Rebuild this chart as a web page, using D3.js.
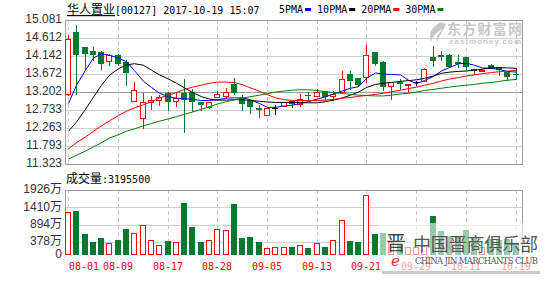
<!DOCTYPE html>
<html>
<head>
<meta charset="utf-8">
<script src="https://cdn.jsdelivr.net/npm/d3@7"></script>
<style>
  body { margin: 0; background: #fff; }
  svg { display: block; }
</style>
</head>
<body>
<svg id="chart" width="550" height="284"></svg>
<script>
// 거래일 (HK), 08-01 ~ 10-19
var dates = ["08-01","08-02","08-03","08-04","08-07","08-08","08-09","08-10","08-11","08-14","08-15","08-16","08-17",
  "08-18","08-21","08-22","08-24","08-25","08-28","08-29","08-30","08-31","09-01","09-04","09-05",
  "09-06","09-07","09-08","09-11","09-12","09-13","09-14","09-15","09-18","09-19","09-20","09-21",
  "09-22","09-25","09-26","09-27","09-28","09-29","10-03","10-04","10-06","10-09","10-10","10-11",
  "10-12","10-13","10-16","10-17","10-18","10-19"];

var open  = [13.14,14.77,14.37,14.27,14.25,14.00,14.17,13.98,12.98,12.53,12.95,12.99,13.17,12.97,13.17,13.21,12.95,12.80,13.08,13.10,13.41,13.05,12.98,12.79,12.61,
  12.78,12.83,12.97,12.88,13.13,13.10,13.22,13.10,13.20,13.68,13.57,13.59,14.25,13.98,13.35,13.46,13.40,13.46,13.48,14.12,14.16,14.18,13.98,14.12,13.81,13.74,13.90,13.86,13.73,13.68];
var high  = [14.68,14.96,14.38,14.38,14.26,14.20,14.20,14.03,13.46,13.17,13.10,13.12,13.19,13.17,13.53,13.28,12.95,12.95,13.24,13.30,13.56,13.12,13.00,12.85,12.79,
  12.85,12.94,12.97,13.16,13.20,13.29,13.22,13.24,13.74,13.74,13.58,14.44,14.25,14.00,13.46,13.55,13.42,13.50,13.83,14.40,14.26,14.19,14.16,14.12,13.81,13.79,13.92,13.86,13.73,13.83];
var low   = [13.12,13.16,13.81,14.05,13.80,13.90,13.90,13.38,12.98,12.25,12.75,12.85,12.73,12.84,12.17,12.71,12.73,12.79,13.06,13.05,13.15,12.73,12.66,12.56,12.61,
  12.64,12.83,12.80,12.84,12.99,13.10,13.00,12.99,13.20,13.29,13.37,13.46,13.90,13.25,13.01,13.29,13.20,13.38,13.48,13.88,14.03,13.85,13.86,13.81,13.68,13.74,13.84,13.65,13.51,13.55];
var close = [14.58,14.16,14.20,14.17,13.94,14.17,13.94,13.71,13.25,12.94,12.99,13.07,12.95,13.05,12.99,12.95,12.86,12.95,13.15,13.21,13.17,12.88,12.80,12.72,12.78,
  12.78,12.94,12.88,13.03,13.09,13.20,13.07,13.16,13.53,13.48,13.38,14.16,13.94,13.33,13.46,13.40,13.42,13.46,13.79,14.00,14.12,13.86,13.94,13.86,13.74,13.77,13.84,13.77,13.59,13.65];

// 성교량 (만)
var volume = [1265,1304,622,395,504,356,444,770,652,879,435,287,415,385,1541,830,395,435,760,731,1511,504,533,395,198,
  228,247,228,287,217,346,237,435,1028,425,395,1770,622,655,380,290,247,247,260,1160,711,570,570,741,494,247,464,444,464,319.55];

// 이동평균선
var ma5  = [12.90,13.38,13.77,14.09,14.20,14.16,14.09,13.99,13.76,13.48,13.32,13.17,13.08,13.04,13.03,13.01,12.98,12.98,13.00,13.04,13.05,13.05,13.00,12.90,12.80,
  12.80,12.84,12.86,12.90,12.95,13.02,13.08,13.15,13.23,13.30,13.34,13.56,13.70,13.67,13.66,13.65,13.51,13.42,13.50,13.61,13.75,13.84,13.94,13.95,13.90,13.83,13.82,13.79,13.74,13.72];
var ma10 = [12.18,12.42,12.75,13.07,13.38,13.64,13.81,13.91,13.94,13.90,13.77,13.65,13.54,13.43,13.31,13.19,13.08,13.02,12.99,12.99,13.00,13.00,12.98,12.96,12.94,
  12.93,12.93,12.93,12.93,12.92,12.92,12.95,12.99,13.05,13.12,13.20,13.32,13.40,13.43,13.45,13.48,13.50,13.52,13.56,13.62,13.69,13.72,13.74,13.75,13.77,13.80,13.83,13.84,13.83,13.82];
var ma20 = [11.72,11.88,12.03,12.18,12.32,12.45,12.59,12.70,12.79,12.87,12.95,13.04,13.12,13.19,13.27,13.33,13.38,13.43,13.46,13.46,13.45,13.39,13.31,13.22,13.13,
  13.05,13.00,12.98,12.98,12.98,12.98,12.99,13.01,13.04,13.06,13.09,13.11,13.14,13.17,13.21,13.25,13.29,13.33,13.38,13.43,13.49,13.54,13.58,13.62,13.65,13.68,13.71,13.73,13.75,13.76];
var ma30 = [11.45,11.55,11.66,11.77,11.88,12.00,12.09,12.18,12.24,12.32,12.38,12.44,12.50,12.56,12.62,12.68,12.75,12.82,12.89,12.95,13.00,13.04,13.08,13.12,13.16,
  13.20,13.23,13.25,13.26,13.26,13.24,13.21,13.19,13.16,13.14,13.12,13.11,13.10,13.10,13.12,13.15,13.17,13.20,13.24,13.27,13.30,13.33,13.36,13.38,13.40,13.43,13.45,13.48,13.51,13.53];

var priceTicks = [15.081,14.612,14.142,13.672,13.202,12.733,12.263,11.793,11.323];
var volTicks = [1926,1410,894,378,0];
var volTickLabels = ["1926万","1410万","894万","378万","0"];
var dateTicks = ["08-01","08-09","08-17","08-28","09-05","09-13","09-21","09-29","10-11","10-19"];
var maLabels = ["5PMA","10PMA","20PMA","30PMA"];

const svg = d3.select("#chart");

const left = 65, right = 522;
const pTop = 20, pBot = 164, vTop = 190, vBot = 255;
const red = "#ff0000", green = "#007a2f";
const maColors = ["#0000ff", "#000000", "#ff0000", "#008000"];

const mono = "'DejaVu Sans Mono', monospace";
const cjk = "'Noto Sans CJK SC', sans-serif";
const sans = "'Liberation Sans', 'Noto Sans CJK SC', sans-serif";

const x = d3.scaleBand().domain(dates).range([63.9, 519.8]);
const cx = d => Math.round(x(d) + x.bandwidth() / 2);
const yP = d3.scaleLinear().domain([11.323, 15.081]).range([pBot, pTop]);
const yV = d3.scaleLinear().domain([0, 1926]).range([vBot, vTop]);

svg.append("rect").attr("width", 550).attr("height", 284).attr("fill", "#fff");

// 워터마크 (상단)
const wm = svg.append("g").attr("fill", "#c8c8c8");
wm.append("path")
  .attr("d", "M441,22 C432,26 428,34 431,42 C433,36 437,31 443,29 C438,33 436,38 437,42 C440,35 444,29 446,24 Z");
wm.append("text").attr("x", 447).attr("y", 34)
  .attr("font-family", cjk).attr("font-size", "14px").attr("font-weight", "bold")
  .attr("textLength", 75).text("东方财富网");
wm.append("text").attr("x", 449).attr("y", 44)
  .attr("font-family", sans).attr("font-size", "8px").attr("font-weight", "bold")
  .attr("textLength", 72).text("eastmoney.com");

// 가로 눈금선
priceTicks.forEach((v, i) => {
  const y = Math.round(yP(v)) + 0.5;
  svg.append("line").attr("x1", left).attr("x2", right).attr("y1", y).attr("y2", y)
    .attr("stroke", i == 4 ? "#999" : "#d0d0d0");
  svg.append("text").attr("x", 62).attr("y", yP(v))
    .attr("text-anchor", "end").attr("dominant-baseline", "middle")
    .attr("font-family", sans).attr("font-size", "12px").attr("fill", "#333")
    .text(v.toFixed(3));
});

volTicks.forEach((v, i) => {
  const y = Math.round(yV(v)) + 0.5;
  if (v > 0 && i > 0) {
    svg.append("line").attr("x1", left).attr("x2", right).attr("y1", y).attr("y2", y)
      .attr("stroke", "#d0d0d0");
  }
  svg.append("text").attr("x", 62).attr("y", yV(v))
    .attr("text-anchor", "end").attr("dominant-baseline", "middle")
    .attr("font-family", sans).attr("font-size", "12px").attr("fill", "#333")
    .text(volTickLabels[i]);
});

// 세로 점선
dateTicks.forEach(d => {
  const xx = cx(d) + 0.5;
  svg.append("line").attr("x1", xx).attr("x2", xx).attr("y1", pTop).attr("y2", pBot)
    .attr("stroke", "#c8c8c8").attr("stroke-dasharray", "4,3");
  svg.append("line").attr("x1", xx).attr("x2", xx).attr("y1", vTop).attr("y2", vBot)
    .attr("stroke", "#c8c8c8").attr("stroke-dasharray", "4,3");
});

// 테두리
svg.append("rect").attr("x", left + 0.5).attr("y", pTop + 0.5)
  .attr("width", right - left).attr("height", pBot - pTop)
  .attr("fill", "none").attr("stroke", "#999");
svg.append("path")
  .attr("d", `M${left + 0.5},${vBot}V${vTop + 0.5}H${right + 0.5}V${vBot}`)
  .attr("fill", "none").attr("stroke", "#999");

// 캔들
dates.forEach((d, i) => {
  const c = cx(d), L = c - 3;
  const o = open[i], cl = close[i];
  const col = cl > o ? red : (cl < o ? green : "#000");
  svg.append("line").attr("x1", c + 0.5).attr("x2", c + 0.5)
    .attr("y1", Math.round(yP(high[i]))).attr("y2", Math.round(yP(low[i])) + 1)
    .attr("stroke", col);
  const top = Math.round(yP(Math.max(o, cl)));
  const bot = Math.round(yP(Math.min(o, cl)));
  if (cl > o) {
    svg.append("rect").attr("x", L + 0.5).attr("y", top + 0.5)
      .attr("width", 5).attr("height", Math.max(bot - top, 1))
      .attr("fill", "#fff").attr("stroke", red);
  } else if (cl < o) {
    svg.append("rect").attr("x", L).attr("y", top)
      .attr("width", 6).attr("height", Math.max(bot - top, 1))
      .attr("fill", green);
  } else {
    svg.append("line").attr("x1", L).attr("x2", L + 6)
      .attr("y1", top + 0.5).attr("y2", top + 0.5).attr("stroke", "#000");
  }

  // 거래량 막대
  const vt = Math.round(yV(volume[i]));
  if (cl >= o) {
    svg.append("rect").attr("x", L + 0.5).attr("y", vt + 0.5)
      .attr("width", 5).attr("height", vBot - vt - 1)
      .attr("fill", "#fff").attr("stroke", red);
  } else {
    svg.append("rect").attr("x", L).attr("y", vt)
      .attr("width", 6).attr("height", vBot - vt)
      .attr("fill", green);
  }
});

// 이동평균선
const line = d3.line().x((v, i) => cx(dates[i]) + 0.5).y(v => yP(v));
[ma5, ma10, ma20, ma30].forEach((s, k) => {
  svg.append("path").datum(s).attr("d", line)
    .attr("fill", "none").attr("stroke", maColors[k]).attr("stroke-width", 1);
});

// 제목
const title = svg.append("text").attr("x", 67).attr("y", 14).attr("fill", "#000");
title.append("tspan").attr("font-family", cjk).attr("font-size", "12px")
  .attr("text-decoration", "underline").text("华人置业");
title.append("tspan").attr("font-family", mono).attr("font-size", "10px")
  .text("[00127] 2017-10-19 15:07");

// 범례
let lx = 279;
maLabels.forEach((t, k) => {
  const tx = svg.append("text").attr("x", lx).attr("y", 13)
    .attr("font-family", mono).attr("font-size", "10px").attr("fill", "#000").text(t);
  const w = tx.node().getComputedTextLength();
  svg.append("rect").attr("x", lx + w + 2).attr("y", 8).attr("width", 6).attr("height", 3)
    .attr("fill", maColors[k]);
  lx += w + 14;
});

// 거래량 제목
const vt = svg.append("text").attr("x", 66).attr("y", 183).attr("fill", "#000");
vt.append("tspan").attr("font-family", cjk).attr("font-size", "12px").text("成交量");
vt.append("tspan").attr("font-family", mono).attr("font-size", "10px")
  .text(":" + Math.round(volume[volume.length - 1] * 10000));

// 날짜 라벨
dateTicks.forEach(d => {
  svg.append("text").attr("x", Math.max(cx(d), 84)).attr("y", 269.5)
    .attr("text-anchor", "middle")
    .attr("font-family", mono).attr("font-size", "10px").attr("fill", red)
    .text(d);
});

// 워터마크 (하단)
svg.append("rect").attr("x", 382).attr("y", 271).attr("width", 158).attr("height", 3)
  .attr("fill", "#888").attr("opacity", 0.45);
svg.append("rect").attr("x", 379).attr("y", 223).attr("width", 161).attr("height", 48)
  .attr("fill", "#fff").attr("opacity", 0.6);
svg.append("text").attr("x", 386).attr("y", 251)
  .attr("font-family", cjk).attr("font-size", "20px")
  .attr("fill", "#444").text("晋");
svg.append("text").attr("x", 391).attr("y", 266)
  .attr("font-family", "'DejaVu Serif', serif").attr("font-size", "15px").attr("font-style", "italic")
  .attr("fill", "#e03030").text("e");
svg.append("text").attr("x", 413).attr("y", 251)
  .attr("font-family", cjk).attr("font-size", "18px").attr("fill", "#555")
  .attr("textLength", 125).text("中国晋商俱乐部");
svg.append("text").attr("x", 415).attr("y", 264)
  .attr("font-family", "'DejaVu Serif', serif").attr("font-size", "8.5px").attr("fill", "#555")
  .attr("textLength", 123).text("CHINA JIN MARCHANTS CLUB");
</script>
</body>
</html>
